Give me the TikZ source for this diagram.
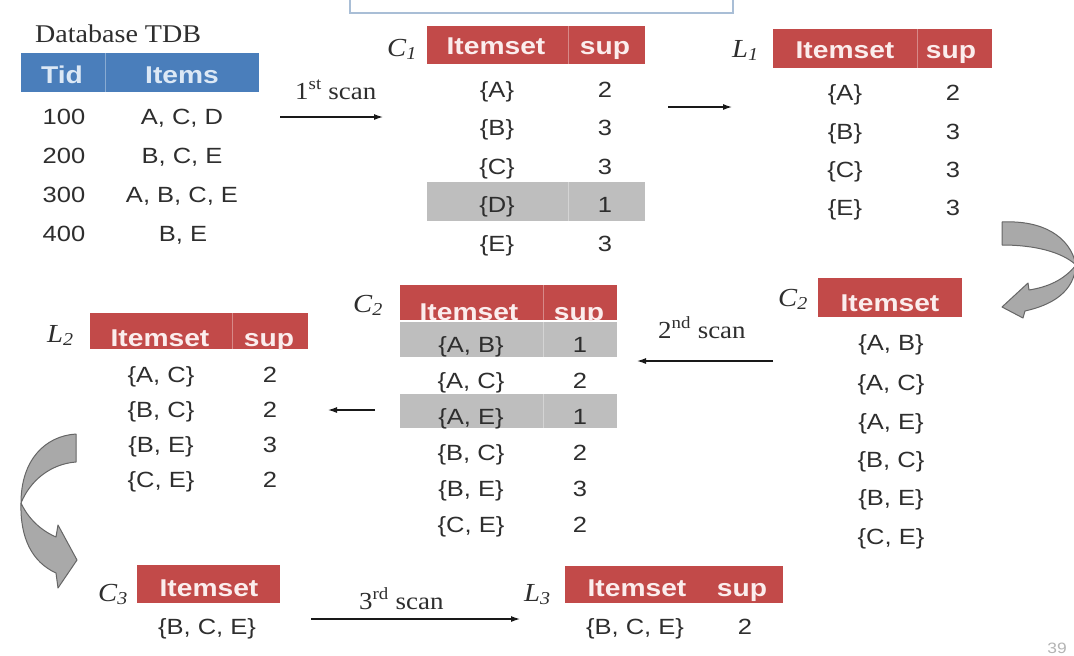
\documentclass[tikz,border=0pt]{standalone}
\usepackage{fontspec}
\setmainfont[FakeStretch=1.1]{Liberation Serif}
\setsansfont[FakeStretch=1.16]{Liberation Sans}
\usetikzlibrary{arrows.meta}

\definecolor{hdrred}{HTML}{C24A49}
\definecolor{hdrblue}{HTML}{4A7EBB}
\definecolor{hdrbluetext}{HTML}{DCE8F5}
\definecolor{hdrredtext}{HTML}{FBEDED}
\definecolor{rowgray}{HTML}{BEBEBE}
\definecolor{ink}{HTML}{2E2E2E}
\definecolor{bandfill}{HTML}{A9A9A9}
\definecolor{bandedge}{HTML}{666666}
\definecolor{frameblue}{HTML}{A9BED6}
\definecolor{pagegray}{HTML}{B4B4B4}

\newcommand\cellfont{\sffamily\fontsize{22}{26}\selectfont}
\newcommand\headfont{\sffamily\bfseries\fontsize{24.3}{28}\selectfont}
\newcommand\setfont{\rmfamily\itshape\fontsize{26}{30}\selectfont}
\newcommand\notefont{\rmfamily\fontsize{24.5}{28}\selectfont}

\begin{document}
\begin{tikzpicture}[x=1pt, y=-1pt,
  cell/.style={font=\cellfont, text=ink, inner sep=0pt, text height=15.75pt, text depth=0pt},
  headtext/.style={font=\headfont, text=hdrredtext, inner sep=0pt, text height=17.4pt, text depth=0pt},
  hdrbar/.style={inner sep=0pt, outer sep=0pt, draw=none},
  setname/.style={font=\setfont, text=ink, inner sep=0pt, anchor=base west},
  scannote/.style={font=\notefont, text=ink, inner sep=0pt, anchor=base west},
  flow/.style={draw=black!90, line width=1.2pt, -{Latex[length=9pt,width=6pt]}},
  bendarrow/.style={fill=bandfill, draw=bandedge, line width=1pt, line join=round},
  coldiv/.style={draw=white, draw opacity=0.35, line width=0.9pt}
]
\fill[white] (0,0) rectangle (1074,656);
\useasboundingbox (0,0) rectangle (1074,656);

% frame of the box above the diagram
\draw[frameblue, line width=2pt] (350,-10) rectangle (733,13);

% ---------- transaction database ----------
\node[font=\rmfamily\fontsize{25.5}{30}\selectfont, text=ink, inner sep=0pt, anchor=base west] (dbtitle) at (35,42) {Database TDB};
\node[hdrbar, fill=hdrblue, minimum width=238pt, minimum height=39pt] (tdbhead) at (140,72.5) {};
\draw[coldiv] (105,53) -- (105,92);
\node[headtext, text=hdrbluetext] (tdbtid) at (62,75) {Tid};
\node[headtext, text=hdrbluetext] (tdbitems) at (182,75) {Items};
\node[cell] (t100) at (64,117) {100};
\node[cell] (i100) at (182,117) {A, C, D};
\node[cell] (t200) at (64,156) {200};
\node[cell] (i200) at (182,156) {B, C, E};
\node[cell] (t300) at (64,195) {300};
\node[cell] (i300) at (182,195) {A, B, C, E};
\node[cell] (t400) at (64,234) {400};
\node[cell] (i400) at (183,234) {B, E};

% first scan
\node[scannote] (scan1) at (295,99) {1\textsuperscript{st} scan};
\coordinate (scan1from) at (280,117);
\coordinate (scan1to) at (383,117);
\draw[flow] (scan1from) -- (scan1to);

% ---------- C1 ----------
\node[setname] (c1name) at (387,56) {C\textsubscript{1}};
\node[hdrbar, fill=hdrred, minimum width=218pt, minimum height=38pt] (c1head) at (536,45) {};
\node[hdrbar, fill=rowgray, minimum width=218pt, minimum height=39pt] (c1drop) at (536,201.5) {};
\draw[coldiv] (568,26) -- (568,64);
\draw[coldiv] (568,182) -- (568,221);
\node[headtext] (c1hset) at (496,46) {Itemset};
\node[headtext] (c1hsup) at (605,46) {sup};
\node[cell] (c1a) at (497,90) {\{A\}};   \node[cell] (c1as) at (605,90) {2};
\node[cell] (c1b) at (497,128) {\{B\}};  \node[cell] (c1bs) at (605,128) {3};
\node[cell] (c1c) at (497,167) {\{C\}};  \node[cell] (c1cs) at (605,167) {3};
\node[cell] (c1d) at (497,205) {\{D\}};  \node[cell] (c1ds) at (605,205) {1};
\node[cell] (c1e) at (497,244) {\{E\}};  \node[cell] (c1es) at (605,244) {3};

\coordinate (c1out) at (668,107);
\coordinate (l1in) at (732,107);
\draw[flow] (c1out) -- (l1in);

% ---------- L1 ----------
\node[setname] (l1name) at (732,57) {L\textsubscript{1}};
\node[hdrbar, fill=hdrred, minimum width=219pt, minimum height=39pt] (l1head) at (882.5,48.5) {};
\draw[coldiv] (917,29) -- (917,68);
\node[headtext] (l1hset) at (845,50) {Itemset};
\node[headtext] (l1hsup) at (951,50) {sup};
\node[cell] (l1a) at (845,93) {\{A\}};   \node[cell] (l1as) at (953,93) {2};
\node[cell] (l1b) at (845,132) {\{B\}};  \node[cell] (l1bs) at (953,132) {3};
\node[cell] (l1c) at (845,170) {\{C\}};  \node[cell] (l1cs) at (953,170) {3};
\node[cell] (l1e) at (845,208) {\{E\}};  \node[cell] (l1es) at (953,208) {3};

% bent arrow from L1 down to C2 (back fold, then front band with head)
\filldraw[bendarrow] (1002,222) .. controls (1042,220) and (1070,236) .. (1076,265)
  .. controls (1062,252) and (1035,245) .. (1002,245) -- cycle;
\filldraw[bendarrow] (1076,265) .. controls (1074,292) and (1052,305) .. (1025,311)
  -- (1023,318) -- (1002,307) -- (1028,283) -- (1029,290)
  .. controls (1048,287) and (1064,280) .. (1076,265) -- cycle;

% ---------- C2 candidates ----------
\node[setname] (c2rname) at (778,306) {C\textsubscript{2}};
\node[hdrbar, fill=hdrred, minimum width=144pt, minimum height=39pt] (c2rhead) at (890,297.5) {};
\node[headtext] (c2rhset) at (890,303) {Itemset};
\node[cell] (c2rab) at (891,343) {\{A, B\}};
\node[cell] (c2rac) at (891,383) {\{A, C\}};
\node[cell] (c2rae) at (891,422) {\{A, E\}};
\node[cell] (c2rbc) at (891,460) {\{B, C\}};
\node[cell] (c2rbe) at (891,498) {\{B, E\}};
\node[cell] (c2rce) at (891,537) {\{C, E\}};

% second scan
\node[scannote] (scan2) at (658,338) {2\textsuperscript{nd} scan};
\coordinate (scan2from) at (773,361);
\coordinate (scan2to) at (637,361);
\draw[flow] (scan2from) -- (scan2to);

% ---------- C2 with counts ----------
\node[setname] (c2mname) at (353,312) {C\textsubscript{2}};
\node[hdrbar, fill=hdrred, minimum width=217pt, minimum height=35pt] (c2mhead) at (508.5,302.5) {};
\node[hdrbar, fill=rowgray, minimum width=217pt, minimum height=35pt] (c2mab) at (508.5,339.5) {};
\node[hdrbar, fill=rowgray, minimum width=217pt, minimum height=34pt] (c2mae) at (508.5,411) {};
\draw[coldiv] (543,285) -- (543,320);
\draw[coldiv] (543,322) -- (543,357);
\draw[coldiv] (543,394) -- (543,428);
\begin{scope}
  \clip (400,285) rectangle (617,320);
  \node[headtext, anchor=base] (c2mhset) at (469,320) {Itemset};
  \node[headtext, anchor=base] (c2mhsup) at (579,320) {sup};
\end{scope}
\node[cell] (m1) at (471,345) {\{A, B\}};  \node[cell] (m1s) at (580,345) {1};
\node[cell] (m2) at (471,381) {\{A, C\}};  \node[cell] (m2s) at (580,381) {2};
\node[cell] (m3) at (471,417) {\{A, E\}};  \node[cell] (m3s) at (580,417) {1};
\node[cell] (m4) at (471,453) {\{B, C\}};  \node[cell] (m4s) at (580,453) {2};
\node[cell] (m5) at (471,489) {\{B, E\}};  \node[cell] (m5s) at (580,489) {3};
\node[cell] (m6) at (471,525) {\{C, E\}};  \node[cell] (m6s) at (580,525) {2};

\coordinate (c2out) at (375,410);
\coordinate (l2in) at (328,410);
\draw[flow] (c2out) -- (l2in);

% ---------- L2 ----------
\node[setname] (l2name) at (47,342) {L\textsubscript{2}};
\node[hdrbar, fill=hdrred, minimum width=218pt, minimum height=36pt] (l2head) at (199,331) {};
\draw[coldiv] (232,313) -- (232,349);
\begin{scope}
  \clip (90,313) rectangle (308,349);
  \node[headtext, anchor=base] (l2hset) at (160,346) {Itemset};
  \node[headtext, anchor=base] (l2hsup) at (269,346) {sup};
\end{scope}
\node[cell] (l2ac) at (161,375) {\{A, C\}};  \node[cell] (l2acs) at (270,375) {2};
\node[cell] (l2bc) at (161,410) {\{B, C\}};  \node[cell] (l2bcs) at (270,410) {2};
\node[cell] (l2be) at (161,445) {\{B, E\}};  \node[cell] (l2bes) at (270,445) {3};
\node[cell] (l2ce) at (161,480) {\{C, E\}};  \node[cell] (l2ces) at (270,480) {2};

% bent arrow from L2 down to C3 (back fold, then front band with head)
\filldraw[bendarrow] (76,434) .. controls (45,436) and (21,460) .. (21,503)
  .. controls (30,481) and (50,464) .. (76,462) -- cycle;
\filldraw[bendarrow] (21,503) .. controls (20,538) and (32,562) .. (56,573)
  -- (58,588) -- (77,560) -- (58,525) -- (56,537)
  .. controls (40,530) and (28,518) .. (21,503) -- cycle;

% ---------- C3 ----------
\node[setname] (c3name) at (98,601) {C\textsubscript{3}};
\node[hdrbar, fill=hdrred, minimum width=143pt, minimum height=38pt] (c3head) at (208.5,584) {};
\node[headtext] (c3hset) at (209,588) {Itemset};
\node[cell] (c3bce) at (207,627) {\{B, C, E\}};

% third scan
\node[scannote] (scan3) at (359,609) {3\textsuperscript{rd} scan};
\coordinate (scan3from) at (311,619);
\coordinate (scan3to) at (520,619);
\draw[flow] (scan3from) -- (scan3to);

% ---------- L3 ----------
\node[setname] (l3name) at (524,601) {L\textsubscript{3}};
\node[hdrbar, fill=hdrred, minimum width=218pt, minimum height=37pt] (l3head) at (674,584.5) {};
\node[headtext] (l3hset) at (637,588) {Itemset};
\node[headtext] (l3hsup) at (742,588) {sup};
\node[cell] (l3bce) at (635,627) {\{B, C, E\}};
\node[cell] (l3bces) at (745,627) {2};

% page number
\node[font=\sffamily\fontsize{15}{18}\selectfont, text=pagegray, inner sep=0pt] (pageno) at (1057,648) {39};
\end{tikzpicture}
\end{document}
